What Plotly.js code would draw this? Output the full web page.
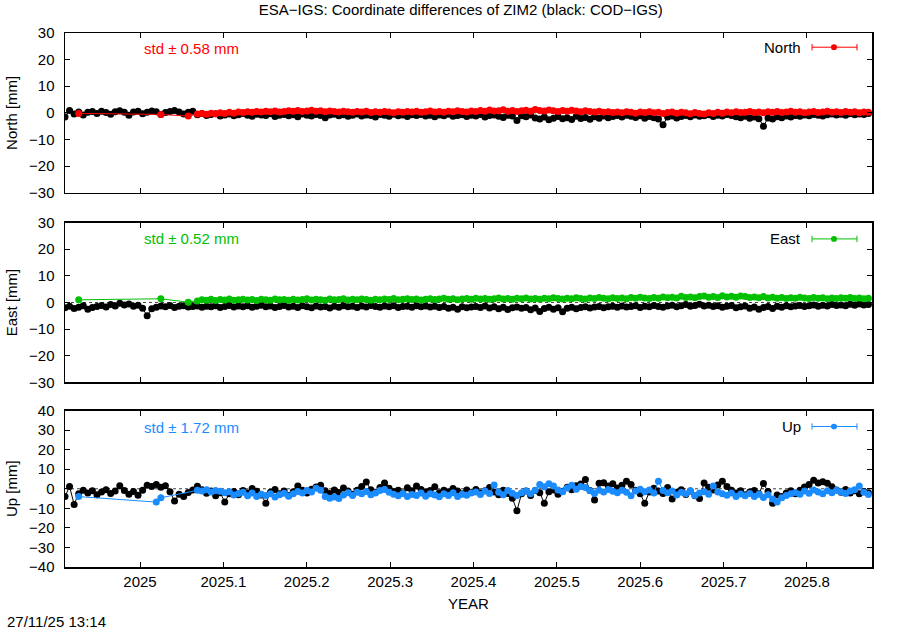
<!DOCTYPE html>
<html><head><meta charset="utf-8">
<script src="https://cdn.plot.ly/plotly-3.0.1.min.js"></script>
<style>body{margin:0;padding:0;background:#fff;} #chart{width:900px;height:630px;}</style>
</head><body><div id="chart"></div>
<script>
// time grid: every second day starting at the first epoch
const startYear = 2024.910;
const stepYears = 2 / 365.25;

const xTickVals = [2025, 2025.1, 2025.2, 2025.3, 2025.4, 2025.5, 2025.6, 2025.7, 2025.8];
const xTickText = ["2025", "2025.1", "2025.2", "2025.3", "2025.4", "2025.5", "2025.6", "2025.7", "2025.8"];
const yTicksNE = [-30, -20, -10, 0, 10, 20, 30];
const yTicksUp = [-40, -30, -20, -10, 0, 10, 20, 30, 40];

const titleText = "ESA\u2212IGS: Coordinate differences of ZIM2 (black: COD\u2212IGS)";
const stampText = "27/11/25 13:14";
const components = ["North", "East", "Up"];
const stdValues = ["0.58", "0.52", "1.72"];

// COD-IGS (black)
const northCOD = [
 -1.6, 0.9, -0.4, 0.3, -0.8, 0.2, 0.5, -0.2, 0.6, 0.1,
 -0.5, 0.4, 0.8, 0.2, -0.9, 0.3, 0.6, -0.3, 0.2, 0.7,
 0.4, -0.6, 0.1, 0.5, 0.9, 0.3, -0.4, 0.2, 0.6, -0.7,
 -0.2, -1.0, -0.6, -0.3, -1.2, -0.8, -0.4, -1.1, -0.7, -0.2,
 -0.9, -1.3, -0.5, -0.8, -1.0, -0.3, -1.4, -0.9, -0.6, -1.1,
 -0.7, -1.5, -0.4, -0.9, -1.2, -0.6, -1.0, -1.8, -0.8, -0.5,
 -1.1, -0.7, -1.3, -0.9, -0.4, -1.2, -0.8, -1.0, -1.6, -0.6,
 -0.9, -1.3, -0.5, -1.1, -0.8, -1.4, -0.7, -1.0, -0.6, -1.2,
 -0.9, -1.5, -0.8, -1.1, -0.5, -1.3, -1.0, -0.7, -1.4, -0.9,
 -1.2, -0.6, -1.6, -1.0, -0.8, -1.3, -1.7, -0.9, -1.2, -2.9,
 -1.1, -1.5, -0.8, -1.9, -2.3, -1.6, -2.6, -2.0, -1.4, -2.2,
 -1.8, -2.5, -1.3, -2.1, -1.7, -2.4, -1.5, -2.0, -1.2, -1.8,
 -1.4, -1.0, -1.6, -0.9, -1.3, -1.7, -1.1, -2.0, -1.4, -1.8,
 -2.3, -4.5, -1.6, -1.2, -1.9, -1.4, -1.0, -1.5, -0.8, -1.3,
 -1.1, -0.7, -1.4, -0.9, -1.2, -0.6, -1.0, -1.5, -1.8, -1.3,
 -2.0, -1.6, -2.2, -5.0, -1.9, -2.3, -1.5, -1.8, -1.2, -1.6,
 -1.0, -1.3, -0.8, -1.1, -0.6, -0.9, -1.2, -0.7, -0.4, -0.8,
 -0.5, -0.9, -0.3, -0.7, -0.4, -0.6, -0.2
];
const eastCOD = [
 -2.0, -1.4, -2.3, -1.8, -1.2, -2.5, -1.9, -1.5, -1.1, -1.7,
 -0.8, -1.3, -0.3, -0.9, -0.6, -1.4, -1.0, -2.2, -5.0, -2.4,
 -1.8, -1.3, -1.6, -1.1, -1.9, -1.4, -1.2, -1.7, -1.5, -1.3,
 -1.8, -1.4, -1.6, -1.2, -1.9, -1.5, -1.1, -1.7, -1.3, -1.6,
 -1.2, -1.8, -1.4, -1.0, -1.6, -1.3, -1.9, -1.5, -1.1, -1.7,
 -1.4, -1.9, -1.2, -1.6, -2.0, -1.3, -1.7, -1.5, -2.1, -1.4,
 -1.8, -1.2, -1.6, -1.4, -1.9, -1.3, -1.7, -1.1, -1.5, -1.8,
 -1.3, -1.6, -1.2, -1.9, -1.5, -1.4, -1.8, -1.2, -1.6, -1.3,
 -1.7, -1.4, -1.9, -1.5, -2.2, -1.8, -2.5, -1.6, -2.0, -1.7,
 -1.5, -1.9, -1.3, -2.1, -1.6, -2.4, -1.8, -2.6, -2.0, -1.7,
 -2.2, -1.9, -2.7, -2.1, -3.4, -2.3, -1.8, -2.5, -2.0, -3.5,
 -2.2, -1.8, -2.4, -1.9, -1.6, -2.1, -1.7, -1.5, -2.0, -1.6,
 -1.4, -1.8, -1.3, -1.7, -1.5, -1.2, -1.9, -1.4, -1.6, -1.1,
 -1.5, -1.8, -1.3, -1.0, -1.6, -1.2, -0.8, -1.4, -1.1, -0.7,
 -1.3, -1.0, -1.5, -1.2, -1.8, -1.4, -1.1, -2.0, -1.6, -1.3,
 -2.2, -1.7, -2.5, -1.9, -1.5, -2.3, -1.4, -1.8, -1.2, -1.6,
 -1.3, -1.1, -1.5, -1.2, -0.9, -1.4, -1.0, -1.3, -0.8, -1.1,
 -0.9, -1.2, -0.7, -1.0, -0.6, -0.9, -0.8
];
const upCOD = [
 -4.0, 1.2, -8.0, -2.5, -0.8, -2.2, -1.0, -3.0, -1.6, -0.5,
 -2.4, -1.2, 1.5, -0.9, -2.8, -1.4, -3.3, -0.7, 1.8, 1.2,
 2.2, 0.8, 1.6, -1.5, -6.2, -2.8, -4.0, -1.9, -0.6, 1.3,
 -0.5, -2.3, -1.1, -3.6, -2.0, -6.8, -2.6, -1.4, -3.0, -0.9,
 -2.1, 0.2, -1.3, -3.2, -7.4, -1.8, -0.4, -2.6, -1.1, -3.4,
 -1.5, 1.4, -0.8, -2.2, -0.3, 0.9, 1.8, -1.0, -2.4, -0.6,
 -1.9, 0.4, -1.2, -2.8, -0.7, 1.1, 3.5, -0.5, -1.8, 0.6,
 2.9, 0.3, -1.4, -0.8, -2.1, 0.5, -1.0, 1.4, -0.4, -1.6,
 -0.9, 1.0, -2.0, -0.7, -1.5, 0.2, -1.2, -2.6, -0.6, -1.8,
 -0.4, -2.2, -1.0, 0.6, -1.7, -3.0, -0.8, -2.4, -4.8, -11.2,
 -2.6, -1.2, -3.4, -0.9, -2.0, -7.4, -1.5, -0.6, -2.8, -1.3,
 0.8, -0.5, 1.6, 2.4, 4.8, -0.9, -5.8, 2.8, 3.1, 1.4,
 2.6, 0.4, 1.8, 3.9, 2.2, -0.8, -2.5, -7.4, -1.6, 0.3,
 -1.2, -2.4, 0.6, -5.2, -1.8, -0.5, -2.9, -1.1, -3.6, -5.0,
 2.9, 0.8, -0.6, 1.9, 3.9, 1.2, -0.7, -2.2, -1.0, -3.1,
 -1.7, -0.9, -2.5, 2.7, -1.4, -7.4, -3.2, -4.0, -2.1, -1.0,
 -2.6, -0.8, 0.9, 2.2, 4.4, 3.0, 3.6, 2.8, 1.0, -0.6,
 -1.8, -0.4, -2.2, -1.0, -2.6, -1.4, -2.0
];

// ESA-IGS (coloured); null = no solution that day
const northESA = [
 null, null, null, -0.2, null, null, null, null, null, null,
 null, null, null, null, null, null, null, null, null, null,
 null, -0.6, null, null, null, null, null, -1.2, null,
 -0.4, -0.2, -0.5, -0.1, -0.3, 0.0, -0.2, 0.2, -0.1, 0.3, 0.1,
 0.4, 0.2, 0.5, 0.3, 0.6, 0.4, 0.7, 0.3, 0.5, 0.8,
 0.6, 0.9, 0.5, 0.7, 1.0, 0.6, 0.8, 0.4, 0.7, 0.5,
 0.3, 0.6, 0.4, 0.2, 0.5, 0.3, 0.6, 0.1, 0.4, 0.2,
 0.5, 0.3, 0.0, 0.4, 0.2, 0.5, 0.3, 0.6, 0.2, 0.4,
 0.7, 0.3, 0.5, 0.2, 0.6, 0.4, 0.8, 0.5, 0.3, 0.7,
 0.5, 0.9, 0.6, 1.1, 0.7, 0.8, 1.2, 0.6, 0.9, 0.5,
 0.8, 1.0, 0.6, 1.3, 0.9, 0.7, 1.1, 0.8, 0.5, 0.9,
 0.6, 1.0, 0.7, 0.4, 0.8, 0.5, 0.3, 0.6, 0.2, 0.4,
 0.1, 0.3, 0.0, 0.4, 0.2, -0.1, 0.3, 0.1, 0.4, 0.0,
 0.2, -0.2, 0.1, 0.3, -0.1, 0.2, 0.0, -0.3, 0.1, -0.2,
 -0.4, 0.0, -0.2, 0.2, -0.1, 0.3, 0.0, 0.4, 0.1, 0.2,
 0.5, 0.1, 0.3, 0.0, 0.4, 0.2, 0.5, 0.1, 0.3, 0.6,
 0.2, 0.4, 0.0, 0.3, 0.5, 0.1, 0.3, 0.6, 0.2, 0.4,
 0.1, 0.5, 0.2, 0.4, 0.0, 0.3, 0.2
];
const eastESA = [
 null, null, null, 1.0, null, null, null, null, null, null,
 null, null, null, null, null, null, null, null, null, null,
 null, 1.4, null, null, null, null, null, 0.1, null,
 0.6, 1.0, 0.8, 1.2, 0.7, 1.1, 0.9, 1.3, 0.8, 1.0, 1.2,
 0.9, 1.1, 0.7, 1.2, 1.0, 0.8, 1.3, 1.0, 1.1, 0.8,
 1.2, 0.9, 1.1, 1.4, 0.9, 1.2, 1.0, 0.8, 1.3, 1.0,
 1.1, 1.4, 0.9, 1.2, 1.0, 1.3, 1.1, 0.8, 1.2, 1.0,
 1.3, 1.1, 1.5, 1.0, 1.2, 1.4, 1.1, 1.3, 0.9, 1.2,
 1.4, 1.1, 1.3, 1.6, 1.2, 1.4, 1.0, 1.3, 1.5, 1.2,
 1.6, 1.3, 1.5, 1.2, 1.4, 1.7, 1.3, 1.5, 1.2, 1.6,
 1.4, 1.7, 1.3, 1.5, 1.2, 1.6, 1.4, 1.8, 1.5, 1.3,
 1.6, 1.4, 1.8, 1.5, 1.3, 1.7, 1.5, 1.9, 1.6, 1.4,
 1.8, 1.5, 1.7, 1.4, 1.9, 1.6, 2.0, 1.7, 1.5, 1.9,
 1.6, 2.1, 1.8, 2.0, 1.7, 2.3, 1.9, 2.1, 1.8, 2.2,
 2.4, 2.0, 2.2, 1.9, 2.5, 2.1, 2.3, 2.0, 2.4, 2.2,
 1.9, 2.1, 1.8, 2.2, 1.7, 2.0, 1.6, 1.9, 1.5, 1.8,
 1.6, 2.0, 1.7, 1.5, 1.9, 1.6, 1.8, 1.4, 1.7, 1.5,
 1.8, 1.6, 1.9, 1.5, 1.7, 1.4, 1.6
];
const upESA = [
 null, null, null, -4.0, null, null, null, null, null, null,
 null, null, null, null, null, null, null, null, null, null,
 -6.8, -4.6, null, null, null, null, null, null, null,
 -0.8, -1.2, -0.5, -1.6, -0.9, -1.3, -2.0, -1.5, -3.2, -2.4, -1.8,
 -3.6, -2.2, -4.0, -2.8, -3.4, -2.5, -4.2, -3.0, -2.3, -3.8,
 -2.6, -1.4, -2.2, -0.9, -1.6, 0.3, -0.8, -3.9, -4.8, -4.2,
 -5.0, -3.2, -2.0, -3.5, -1.8, -2.6, -1.4, -3.0, -2.2, -0.9,
 -0.4, -1.8, -2.8, -3.6, -2.4, -4.0, -2.9, -3.5, -2.1, -3.8,
 -2.6, -3.2, -4.1, -2.5, -3.4, -2.0, -3.9, -2.8, -3.3, -2.2,
 -1.6, -2.9, -1.2, -2.4, 1.9, -1.8, -3.0, -0.9, -2.3, -3.4,
 -2.0, -1.1, -2.6, -0.8, 2.2, 1.0, 2.6, 1.4, -0.6, -1.5,
 0.4, 1.8, -0.2, 1.2, 0.6, -1.0, -2.4, -0.8, -1.6, -0.4,
 -1.3, -2.0, -0.7, -1.8, -3.6, -1.2, -0.3, -1.5, -0.6, -2.1,
 3.8, -0.9, -2.0, -1.1, -3.2, -1.8, -2.6, -1.0, -3.4, -2.2,
 -1.5, -2.8, 1.4, -1.7, -2.5, -3.3, -2.1, -4.0, -2.7, -3.6,
 -2.4, -3.9, -2.8, -4.4, -3.0, -5.2, -6.8, -4.6, -3.5, -2.6,
 -1.9, -2.8, -1.2, -2.3, -0.6, -1.7, -2.5, -1.0, -2.0, -0.8,
 -1.6, -2.4, -1.1, -0.5, 1.4, -1.8, -2.9
];

const esaColors = ["#ff0000", "#00c000", "#1a8cff"];

[northCOD, eastCOD, upCOD, northESA, eastESA, upESA].forEach((a, k) => {
  if (a.length !== northCOD.length) throw new Error("length mismatch in series " + k + ": " + a.length);
});

const years = northCOD.map((_, i) => startYear + i * stepYears);

// panel axes: North -> y3 (top), East -> y2, Up -> y (bottom)
const panelAxes = [["x3", "y3"], ["x2", "y2"], ["x", "y"]];
const codSeries = [northCOD, eastCOD, upCOD];
const esaSeries = [northESA, eastESA, upESA];

const traces = [];
for (let p = 0; p < 3; p++) {
  traces.push({
    x: years, y: codSeries[p], xaxis: panelAxes[p][0], yaxis: panelAxes[p][1],
    type: "scatter", mode: "lines+markers", connectgaps: true, showlegend: false,
    line: {color: "#000", width: 1}, marker: {color: "#000", size: 7, symbol: "circle"},
    hoverinfo: "skip"
  });
  traces.push({
    x: years, y: esaSeries[p], xaxis: panelAxes[p][0], yaxis: panelAxes[p][1],
    type: "scatter", mode: "lines+markers", connectgaps: true, showlegend: false,
    line: {color: esaColors[p], width: 1}, marker: {color: esaColors[p], size: 7, symbol: "circle"},
    hoverinfo: "skip"
  });
}

const FONT = "Liberation Sans, Arial, Helvetica, sans-serif";
const FS = 15;
const axisBase = {
  showline: true, linecolor: "#000", linewidth: 1.5, mirror: "allticks",
  ticks: "inside", ticklen: 5, tickwidth: 1, tickcolor: "#000",
  showgrid: false, zeroline: false,
  tickfont: {family: FONT, size: FS, color: "#000"}
};
const xRange = [2024.910, 2025.878];
function xAxis(anchor, labels) {
  return Object.assign({}, axisBase, {
    anchor: anchor, range: xRange, tickmode: "array", tickvals: xTickVals, ticktext: xTickText,
    showticklabels: labels
  });
}
function yAxis(domain, range, ticks, title) {
  return Object.assign({}, axisBase, {
    domain: domain, range: range, tickmode: "array", tickvals: ticks,
    ticklabelstandoff: 6,
    title: {text: title, font: {family: FONT, size: FS, color: "#000"}, standoff: 8}
  });
}

const layout = {
  width: 900, height: 630,
  paper_bgcolor: "#fff", plot_bgcolor: "#fff",
  margin: {l: 65, r: 28, t: 32.5, b: 62.5, autoexpand: false},
  showlegend: false,
  font: {family: FONT, size: FS, color: "#000"},
  title: {text: titleText, font: {family: FONT, size: FS, color: "#000"},
          xref: "container", x: 0.512, xanchor: "center", yref: "container", y: 0.984, yanchor: "middle"},
  xaxis: Object.assign(xAxis("y", true), {title: {text: "YEAR", font: {family: FONT, size: FS, color: "#000"}, standoff: 10}}),
  xaxis2: Object.assign(xAxis("y2", false), {matches: "x"}),
  xaxis3: Object.assign(xAxis("y3", false), {matches: "x"}),
  yaxis: Object.assign(yAxis([0, 0.293], [-40, 40], yTicksUp, "Up [mm]"), {anchor: "x"}),
  yaxis2: Object.assign(yAxis([0.3458, 0.6449], [-30, 30], yTicksNE, "East [mm]"), {anchor: "x2"}),
  yaxis3: Object.assign(yAxis([0.7009, 1], [-30, 30], yTicksNE, "North [mm]"), {anchor: "x3"}),
  shapes: [],
  annotations: []
};

// dotted zero lines
["y3", "y2", "y"].forEach(ya => {
  layout.shapes.push({type: "line", xref: "paper", x0: 0, x1: 1, yref: ya, y0: 0, y1: 0,
    line: {color: "#444", width: 1, dash: "dot"}, layer: "below"});
});

// std labels and key entries per panel
const keyY = [0.911, 0.898, 0.898];
const stdY = [0.904, 0.898, 0.892];
const keyX0 = 0.9257, keyX1 = 0.9814, keyXc = 0.9529;
for (let p = 0; p < 3; p++) {
  const yd = panelAxes[p][1] + " domain";
  layout.annotations.push({
    xref: "paper", x: 0.157, xanchor: "center", yref: yd, y: stdY[p], yanchor: "middle",
    text: "std \u00b1 " + stdValues[p] + " mm", showarrow: false,
    font: {family: FONT, size: FS, color: esaColors[p]}
  });
  layout.annotations.push({
    xref: "paper", x: 0.914, xanchor: "right", yref: yd, y: keyY[p], yanchor: "middle",
    text: components[p], showarrow: false, font: {family: FONT, size: FS, color: "#000"}
  });
  const c = esaColors[p];
  const cap = 0.02;
  layout.shapes.push({type: "line", xref: "paper", yref: yd, x0: keyX0, x1: keyX1, y0: keyY[p], y1: keyY[p], line: {color: c, width: 1}});
  layout.shapes.push({type: "line", xref: "paper", yref: yd, x0: keyX0, x1: keyX0, y0: keyY[p] - cap, y1: keyY[p] + cap, line: {color: c, width: 1}});
  layout.shapes.push({type: "line", xref: "paper", yref: yd, x0: keyX1, x1: keyX1, y0: keyY[p] - cap, y1: keyY[p] + cap, line: {color: c, width: 1}});
  layout.shapes.push({type: "circle", xref: "paper", yref: yd, x0: keyXc - 0.0037, x1: keyXc + 0.0037,
    y0: keyY[p] - 0.018, y1: keyY[p] + 0.018, fillcolor: c, line: {color: c, width: 0}});
}

// timestamp
layout.annotations.push({
  xref: "paper", x: -0.0743, xanchor: "left", yref: "paper", y: -0.102, yanchor: "middle",
  text: stampText, showarrow: false, font: {family: FONT, size: FS, color: "#000"}
});

Plotly.newPlot("chart", traces, layout, {staticPlot: true, displayModeBar: false});
</script>
</body></html>
